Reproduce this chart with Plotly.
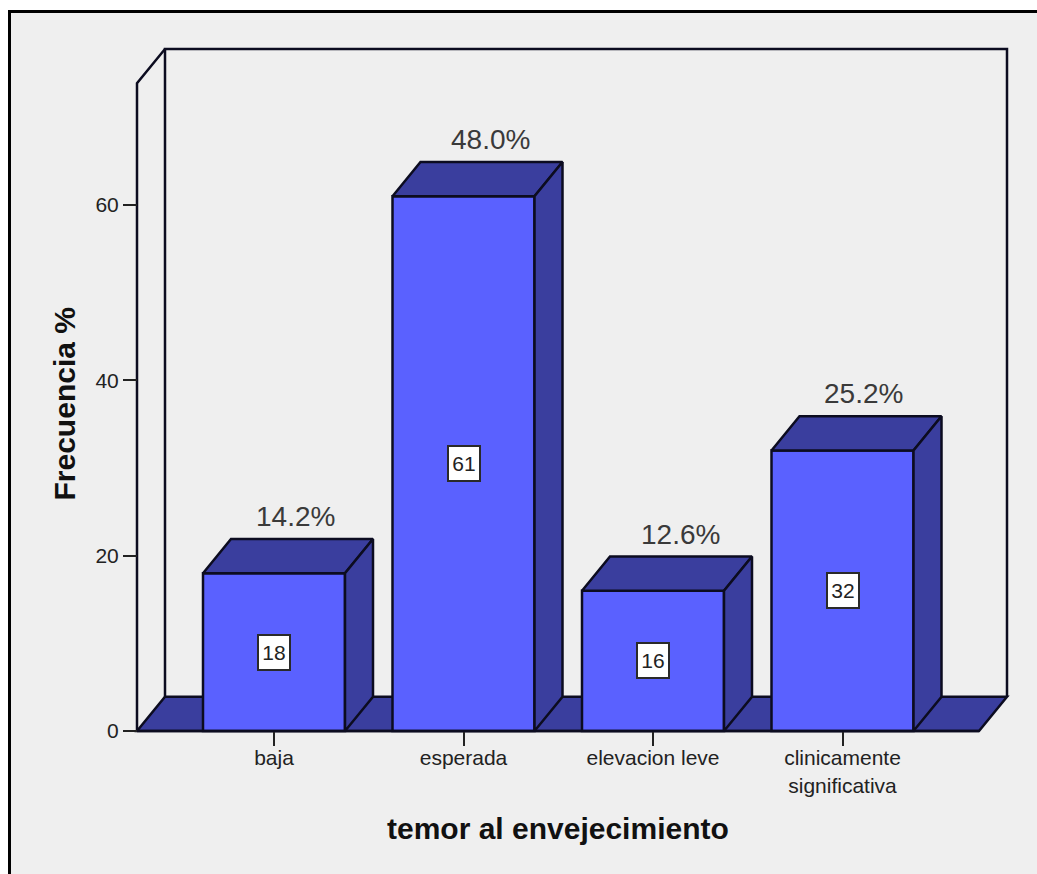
import plotly.graph_objects as go

# Survey counts and their shares
categories = ["baja", "esperada", "elevacion leve", "clinicamente<br>significativa"]
counts = [18, 61, 16, 32]
shares = ["14.2%", "48.0%", "12.6%", "25.2%"]
y_ticks = [0, 20, 40, 60]
share_shift = [21, 27, 27, 21]

W, H = 1037, 874
L, R, T, B = 127, 1017, 39, 741   # plot area, a little larger than the room so its edges are not cut
ROOM_L, ROOM_R, ROOM_T, ROOM_B = 137, 1007, 49, 731
X_UNIT = 189.5          # pixels between neighbouring categories
Y_UNIT = 8.767          # pixels per count
X_ZERO = 274            # pixel column of the first category


def data_x(px):
    return (px - X_ZERO) / X_UNIT


def data_y(py):
    return (ROOM_B - py) / Y_UNIT


def page_x(px):
    return (px - L) / (R - L)


def page_y(py):
    return (B - py) / (B - T)


BAR_W = 142 / X_UNIT
DX = 28 / X_UNIT        # depth of the box, horizontal part
DY = 3.9                # depth of the box, vertical part
X_MIN, X_MAX = data_x(ROOM_L), data_x(ROOM_R)
Y_TOP = data_y(ROOM_T)
WALL_H = Y_TOP - DY
FLOOR_END = data_x(979)

FRONT = "#5A61FF"
SHADE = "#3A3E9E"
EDGE = "#0C0C20"
INK = "#222222"
BG = "#EFEFEF"
FONT = "Liberation Sans"
LINE_W = 2.5


def poly(xs, ys, fill):
    return go.Scatter(x=xs, y=ys, mode="lines", fill="toself", fillcolor=fill,
                      line=dict(color=EDGE, width=LINE_W), hoverinfo="skip",
                      showlegend=False)


def edge(xs, ys):
    return go.Scatter(x=xs, y=ys, mode="lines", line=dict(color=EDGE, width=LINE_W),
                      hoverinfo="skip", showlegend=False)


fig = go.Figure()

# Front faces of the columns
positions = list(range(len(categories)))
fig.add_trace(go.Bar(x=positions, y=counts, width=BAR_W,
                     marker=dict(color=FRONT, line=dict(color=EDGE, width=LINE_W)),
                     showlegend=False))

# Top and side faces of the columns
for p, v in zip(positions, counts):
    a, b = p - BAR_W / 2, p + BAR_W / 2
    fig.add_trace(poly([a, b, b + DX, a + DX, a], [v, v, v + DY, v + DY, v], SHADE))
    fig.add_trace(poly([b, b + DX, b + DX, b, b], [0, DY, v + DY, v, 0], SHADE))

# Room edges: side wall, back wall and base line
fig.add_trace(edge([X_MIN, X_MIN, X_MIN + DX], [0, WALL_H, Y_TOP]))
fig.add_trace(edge([X_MIN + DX, X_MIN + DX, X_MAX, X_MAX], [DY, Y_TOP, Y_TOP, DY]))
fig.add_trace(edge([X_MIN, FLOOR_END], [0, 0]))

shapes = [
    # Panel behind everything, its border running off the right and bottom
    dict(type="rect", xref="paper", yref="paper", layer="below",
         x0=page_x(9.5), x1=page_x(W + 10), y0=page_y(H + 10), y1=page_y(11.5),
         fillcolor=BG, line=dict(color="#000000", width=3)),
    # Floor of the room
    dict(type="path", xref="x", yref="y", layer="below",
         path=f"M {X_MIN} 0 L {FLOOR_END} 0 L {FLOOR_END + DX} {DY} L {X_MIN + DX} {DY} Z",
         fillcolor=SHADE, line=dict(color=EDGE, width=LINE_W)),
]

annotations = []
# Boxed counts in the middle of each column
for p, v in zip(positions, counts):
    annotations.append(dict(x=p, y=v / 2, xref="x", yref="y", text=str(v), showarrow=False,
                            font=dict(family=FONT, size=21, color="#222222"),
                            bgcolor="#FFFFFF", bordercolor="#2A2A2A", borderwidth=2,
                            width=28, height=31, align="center", valign="middle"))
# Shares above each column
for p, v, s, shift in zip(positions, counts, shares, share_shift):
    annotations.append(dict(x=p, y=v + DY, xref="x", yref="y", text=s, showarrow=False,
                            xshift=shift, yshift=5, yanchor="bottom",
                            font=dict(family=FONT, size=28, color="#3A3A3A")))
# Axis titles
annotations.append(dict(x=page_x(557.5), y=page_y(828), xref="paper", yref="paper",
                        xanchor="center", yanchor="middle",
                        text="<b>temor al envejecimiento</b>", showarrow=False,
                        font=dict(family=FONT, size=30, color="#111111")))
annotations.append(dict(x=page_x(64), y=page_y(404.5), xref="paper", yref="paper",
                        xanchor="center", yanchor="middle",
                        text="<b>Frecuencia %</b>", textangle=-90, showarrow=False,
                        font=dict(family=FONT, size=30, color="#111111")))

fig.update_layout(
    width=W, height=H, autosize=False,
    margin=dict(l=L, r=W - R, t=T, b=H - B),
    paper_bgcolor="#FFFFFF", plot_bgcolor="rgba(0,0,0,0)",
    shapes=shapes, annotations=annotations, showlegend=False,
    xaxis=dict(range=[data_x(L), data_x(R)], tickmode="array", tickvals=positions,
               ticktext=categories, anchor="free", position=page_y(ROOM_B),
               ticks="outside", ticklen=14, tickwidth=2, tickcolor=INK, showgrid=False,
               zeroline=False, showline=False, ticklabelstandoff=-6,
               tickfont=dict(family=FONT, size=21, color=INK)),
    yaxis=dict(range=[data_y(B), data_y(T)], tickmode="array", tickvals=y_ticks,
               anchor="free", position=page_x(ROOM_L),
               ticks="outside", ticklen=14, tickwidth=2, tickcolor=INK, showgrid=False,
               zeroline=False, showline=False,
               tickfont=dict(family=FONT, size=21, color=INK)),
)

fig.write_html("out.html", config=dict(displayModeBar=False))
